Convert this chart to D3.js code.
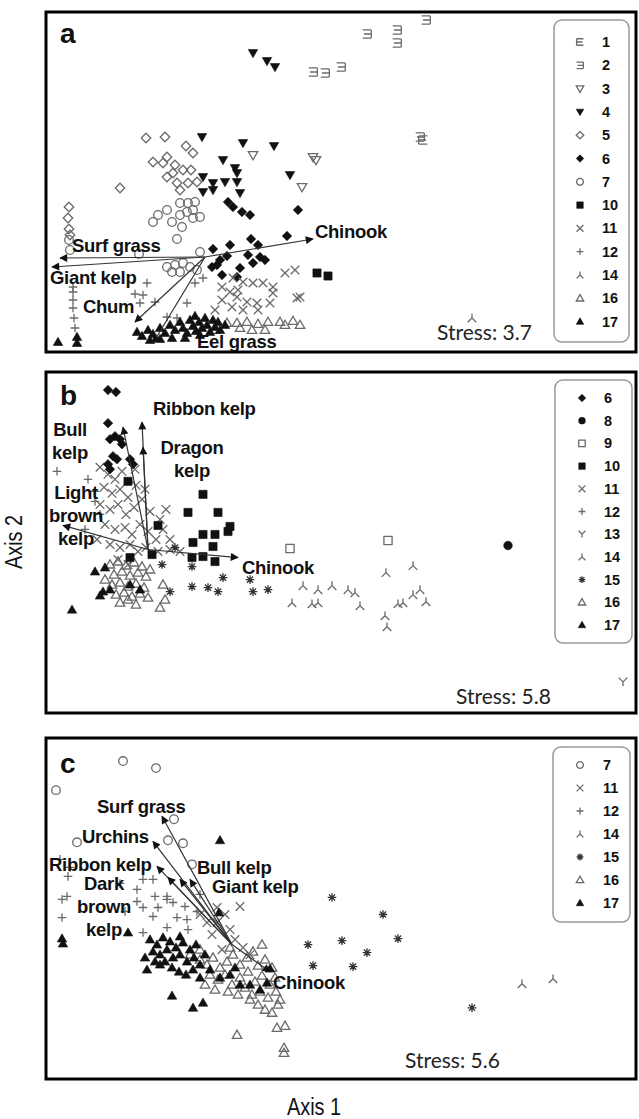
<!DOCTYPE html>
<html><head><meta charset="utf-8">
<script src="https://cdn.jsdelivr.net/npm/d3@7"></script>
<style>body{margin:0;background:#fff}svg{display:block}</style>
</head><body>
<script>
// ---------- ordination scores (Axis 1, Axis 2), one array per site group ----------
// panel a
const aG1 = [[37.7,21.2]];
const aG2 = [[38.0,33.2],[35.1,32.2],[35.1,30.9],[32.1,31.8],[26.7,28.0],[27.9,27.9],[29.5,28.5],[37.4,21.5]];
const aG3 = [[20.7,19.7],[26.7,19.5],[27.0,19.2],[25.6,16.5]];
const aG4 = [[20.7,29.9],[22.1,29.1],[22.9,28.5],[15.6,21.5],[19.7,20.9],[22.8,20.6],[17.7,19.2],[18.9,18.4],[19.1,17.9],[15.7,17.5],[16.7,16.9],[17.9,17.0],[19.1,17.0],[19.4,15.9],[15.7,16.0],[16.7,16.2],[24.4,17.7]];
const aG5 = [[10.0,21.4],[11.9,21.5],[14.0,20.6],[14.7,19.9],[10.7,19.0],[11.7,18.9],[12.1,19.5],[12.7,17.9],[13.7,18.2],[14.5,18.2],[12.1,17.5],[7.4,16.4],[13.1,16.9],[14.2,16.9],[15.1,17.0],[13.4,16.2],[2.3,14.5],[2.2,13.4],[2.3,12.3],[2.4,11.7],[12.9,18.7]];
const aG6 = [[18.2,15.0],[18.7,14.5],[19.6,14.0],[20.4,13.7],[25.2,14.2],[16.7,10.3],[18.4,10.7],[20.5,11.3],[21.2,10.7],[24.1,11.6],[18.1,9.6],[17.4,9.2],[16.6,8.5],[17.1,8.7],[19.4,8.4],[20.2,9.7],[20.7,8.9],[21.4,9.5],[21.9,9.2],[17.6,7.7],[19.1,7.5]];
const aG7 = [[10.7,13.0],[11.2,13.7],[12.1,14.2],[12.6,13.0],[13.6,12.5],[13.4,13.7],[14.1,14.0],[14.7,14.2],[15.4,13.5],[14.7,13.4],[14.2,14.9],[13.4,14.9],[14.9,15.0],[13.1,11.3],[9.3,9.8],[15.4,10.0],[2.3,11.2],[12.1,8.5],[12.9,8.7],[13.7,8.9],[14.4,8.5],[15.1,8.2],[12.6,8.0],[13.4,8.0],[2.4,10.2]];
const aG10 = [[27.1,7.9],[28.2,7.6]];
const aG11 = [[23.9,7.9],[24.9,8.2],[18.7,7.4],[19.7,7.0],[20.7,6.9],[21.7,6.9],[22.7,6.5],[17.6,6.5],[18.4,6.0],[19.1,5.5],[20.1,5.0],[21.1,4.9],[22.4,4.9],[25.1,5.4],[17.6,5.2],[18.6,4.5],[19.7,4.2],[16.9,4.2],[21.2,4.2],[22.7,5.9],[19.2,6.2],[25.4,5.5]];
const aG12 = [[10.1,6.9],[8.9,5.8],[9.7,5.7],[9.4,4.9],[14.9,6.9],[15.7,7.4],[14.1,4.9],[2.7,6.5],[2.7,6.0],[2.7,5.2],[2.7,4.4],[2.8,3.4],[2.9,2.4],[13.1,3.4],[12.1,3.5],[10.9,5.0]];
const aG14 = [[42.6,3.4]];
const aG16 = [[18.1,2.9],[19.1,2.9],[20.1,3.0],[21.2,2.8],[22.2,3.0],[23.4,3.0],[24.7,3.1],[23.9,2.7],[19.4,2.4],[20.6,2.2],[21.9,2.2],[16.9,2.2],[25.4,2.7]];
const aG17 = [[1.2,1.0],[3.1,1.5],[3.1,0.9],[9.1,2.0],[9.6,1.6],[10.2,2.2],[10.7,1.8],[11.4,2.4],[11.9,1.9],[12.4,2.7],[12.9,2.2],[13.4,3.0],[13.7,2.4],[14.1,1.9],[14.4,3.2],[14.7,2.6],[15.0,2.1],[15.3,3.0],[15.6,2.4],[15.9,3.4],[16.1,2.7],[16.4,2.0],[16.7,3.2],[16.9,2.5],[17.2,3.0],[17.4,2.2],[15.4,1.7],[13.9,1.4],[12.6,1.4],[11.4,1.3],[10.4,1.2],[17.9,2.7],[14.9,3.6]];

// panel b
const bG6 = [[6.2,32.2],[7.0,32.0],[6.2,28.9],[6.4,27.3],[6.9,27.6],[7.4,27.3],[6.7,25.6],[7.1,25.3],[8.4,25.3],[8.7,24.8],[6.2,24.8],[6.4,24.3],[7.6,26.8]];
const bG8 = [[46.2,16.7]];
const bG9 = [[34.2,17.2],[24.4,16.4]];
const bG10 = [[15.7,21.8],[14.2,20.0],[17.2,20.0],[18.4,18.6],[14.7,17.0],[15.7,17.8],[16.9,17.8],[18.2,18.1],[15.7,15.6],[16.7,16.6],[16.9,15.1],[14.6,15.5],[10.6,15.8],[8.2,23.1],[11.2,18.7],[8.4,15.5]];
const bG11 = [[5.4,24.5],[6.2,23.8],[6.9,23.3],[7.6,24.1],[5.8,22.5],[6.6,21.9],[7.4,22.3],[8.2,21.5],[9.0,22.7],[5.4,20.8],[6.4,20.3],[7.2,20.8],[8.0,19.8],[8.8,20.5],[9.6,21.3],[10.4,20.1],[11.4,19.3],[12.0,20.3],[5.9,18.8],[6.9,18.3],[7.9,18.5],[8.6,17.8],[9.4,18.8],[10.2,18.1],[11.0,17.3],[11.7,18.3],[6.4,16.8],[7.4,16.5],[8.4,16.8],[9.2,16.1],[10.0,16.5],[7.2,15.3],[8.2,14.8],[11.2,16.1],[12.4,17.3],[8.9,24.3],[9.9,22.3],[5.1,17.3],[12.4,16.3],[13.4,16.1]];
const bG12 = [[1.1,24.1],[4.9,22.1],[4.9,21.1],[4.2,23.3],[5.4,19.8],[3.9,18.3]];
const bG13 = [[57.7,3.1]];
const bG14 = [[34.0,14.0],[36.7,14.7],[25.7,12.7],[27.2,12.3],[28.6,12.7],[30.2,12.3],[30.9,12.0],[31.4,10.7],[26.6,10.9],[27.2,11.0],[33.9,9.7],[34.1,8.6],[35.2,10.9],[35.7,11.0],[36.7,11.8],[37.4,12.3],[38.0,11.1],[24.6,11.0]];
const bG15 = [[12.9,16.5],[11.6,14.8],[14.6,14.6],[17.7,13.5],[20.4,13.3],[20.7,12.1],[22.2,12.3],[14.6,12.6],[16.2,12.5],[17.2,12.1],[12.4,12.1]];
const bG16 = [[6.4,14.8],[7.2,15.1],[8.0,14.7],[8.8,15.0],[9.6,14.6],[6.8,13.8],[7.6,14.1],[8.4,13.7],[9.2,14.0],[10.0,13.6],[6.6,12.8],[7.4,13.0],[8.2,12.6],[9.0,12.9],[9.8,12.5],[7.0,11.8],[7.8,12.0],[8.6,11.6],[9.4,11.9],[10.2,11.5],[7.4,11.0],[8.2,11.3],[9.0,10.8],[11.7,12.8],[11.9,11.3],[11.4,10.5],[5.9,13.3],[10.4,14.3]];
const bG17 = [[2.6,10.3],[4.9,14.1],[5.9,14.5],[5.7,12.1],[5.4,11.7],[9.4,12.3],[8.4,12.8],[6.4,12.3]];

// panel c
const cG7 = [[7.7,31.7],[11.0,31.0],[1.0,28.8],[12.8,25.9],[12.2,23.8],[13.7,23.5],[3.1,23.6],[14.6,21.4]];
const cG11 = [[17.1,17.1],[18.4,14.9],[19.7,13.1],[17.1,15.6],[16.1,15.6],[19.4,17.2],[17.9,16.4],[18.9,13.9],[20.4,12.4],[16.6,14.4],[15.4,16.4],[17.6,12.9]];
const cG12 = [[1.6,17.9],[1.6,16.1],[7.9,16.7],[9.1,17.7],[9.7,17.1],[11.2,17.1],[12.1,17.9],[10.7,16.2],[13.1,16.1],[14.1,15.9],[15.1,16.7],[12.1,15.1],[9.7,14.6],[14.2,14.9],[7.4,19.5],[2.4,21.1],[2.2,20.2],[9.7,19.9],[9.1,18.9],[10.7,19.9],[2.1,18.2],[10.9,18.2],[12.1,18.2],[12.7,17.6],[13.9,17.2],[15.4,18.4],[1.4,21.9]];
const cG14 = [[47.6,9.5],[50.7,10.0]];
const cG15 = [[28.6,18.1],[33.7,16.4],[26.2,13.4],[29.6,13.8],[32.1,12.6],[35.2,14.0],[26.7,11.3],[30.7,11.2],[42.6,7.1]];
const cG16 = [[15.4,11.9],[16.1,11.4],[16.7,12.1],[17.4,11.1],[18.1,11.7],[18.7,12.4],[19.4,11.4],[20.1,12.1],[20.7,12.7],[21.2,11.3],[21.9,11.9],[22.6,11.1],[16.4,10.4],[17.2,9.9],[17.9,10.4],[18.6,9.4],[19.4,10.1],[20.2,10.7],[20.9,9.7],[21.6,10.3],[22.4,9.4],[22.9,10.1],[15.9,9.4],[16.9,8.9],[18.2,8.7],[19.2,8.4],[19.9,9.1],[20.6,8.4],[21.4,8.7],[22.2,8.1],[23.0,8.7],[23.4,7.9],[21.2,7.4],[21.9,6.9],[22.6,6.6],[20.4,7.9],[19.1,4.4],[23.1,5.1],[23.9,5.3],[23.8,2.6],[23.8,3.1],[15.4,12.9],[18.4,13.1],[21.6,13.4],[14.4,12.4],[23.2,7.4]];
const cG17 = [[1.6,14.0],[1.7,13.5],[17.3,16.6],[8.2,14.6],[17.4,23.8],[12.6,8.3],[14.7,7.1],[15.7,7.6],[10.1,10.9],[11.4,11.4],[22.4,11.0],[22.1,9.6],[10.4,13.9],[11.1,13.4],[11.7,14.1],[12.4,13.7],[13.0,13.1],[13.7,13.6],[14.4,12.9],[15.0,13.4],[10.7,12.7],[11.4,12.4],[12.1,12.9],[12.7,12.1],[13.4,12.4],[14.1,11.7],[14.8,12.1],[15.4,11.4],[11.9,11.7],[12.6,11.1],[13.3,10.7],[14.0,10.4],[14.7,10.9],[15.4,10.1],[10.9,11.7],[15.9,12.4],[16.4,10.9],[17.4,10.1],[18.4,10.4],[19.4,9.4],[20.4,9.4],[21.4,8.9],[13.4,14.2],[9.9,12.1],[18.9,11.1]];

// ---------- fitted environmental vectors: [name lines, Axis 1, Axis 2] ----------
const originA = [15.9, 9.5];
const vectorsA = [[["Surf grass"],1.4,9.4],[["Giant kelp"],0.6,8.5],[["Chinook"],26.7,11.3],[["Chum"],8.9,3.0],[["Eel grass"],10.7,0.9]];
const originB = [10.2, 16.3];
const vectorsB = [[["Ribbon kelp"],9.6,29.0],[["Bull","kelp"],7.7,28.5],[["Dragon","kelp"],9.7,26.5],[["Light","brown","kelp"],1.7,18.7],[["Chinook"],19.2,15.5]];
const originC = [18.6, 13.4];
const vectorsC = [[["Surf grass"],11.6,26.2],[["Urchins"],10.7,23.7],[["Ribbon kelp"],11.1,21.2],[["Dark","brown","kelp"],12.2,20.1],[["Bull kelp"],14.4,19.9],[["Giant kelp"],13.4,19.9],[["Chinook"],22.4,10.7]];

// legend entries and stress values
const legendA = ["1","2","3","4","5","6","7","10","11","12","14","16","17"];
const legendB = ["6","8","9","10","11","12","13","14","15","16","17"];
const legendC = ["7","11","12","14","15","16","17"];
const stressA = "Stress: 3.7", stressB = "Stress: 5.8", stressC = "Stress: 5.6";

// ---------- layout ----------
const W = 639, H = 1119;
const X0 = 46, X1 = 636;
const xDomain = [0, 59], yDomain = [0, 34];

// label placement relative to arrow tip: [dx, dy, anchor]
const labelPosA = [[12,-12,"start"],[-2,11,"start"],[2,-7,"start"],[-52,-15,"start"],[44,-1,"start"]];
const labelPosB = [[11,-14,"start"],[-53,2,"middle"],[49,0,"middle"],[13,-33,"middle"],[4,10,"start"]];
const labelPosC = [[-65,-10,"start"],[-71,-5,"start"],[-108,-2,"start"],[-64,6,"middle"],[7,-12,"start"],[32,7,"start"],[3,11,"start"]];

const panels = [
  {tag:"a", top:12, bottom:352, tagBase:43,
   groups:[["5",aG5],["7",aG7],["1",aG1],["2",aG2],["3",aG3],["4",aG4],["6",aG6],["10",aG10],["11",aG11],["12",aG12],["14",aG14],["16",aG16],["17",aG17]],
   origin:originA, vectors:vectorsA, labelPos:labelPosA,
   legend:legendA, legBox:[554,20,629,342], legY0:42, legStep:23.3, legSym:580, legTxt:602,
   stress:stressA, stressX:437, stressBase:340},
  {tag:"b", top:372, bottom:713, tagBase:405,
   groups:[["11",bG11],["12",bG12],["16",bG16],["6",bG6],["8",bG8],["9",bG9],["10",bG10],["13",bG13],["14",bG14],["15",bG15],["17",bG17]],
   origin:originB, vectors:vectorsB, labelPos:labelPosB,
   legend:legendB, legBox:[555,380,632,643], legY0:398, legStep:22.7, legSym:582, legTxt:604,
   stress:stressB, stressX:456, stressBase:704},
  {tag:"c", top:738, bottom:1079, tagBase:773,
   groups:[["7",cG7],["12",cG12],["11",cG11],["16",cG16],["14",cG14],["15",cG15],["17",cG17]],
   origin:originC, vectors:vectorsC, labelPos:labelPosC,
   legend:legendC, legBox:[553,747,630,922], legY0:765, legStep:23, legSym:580, legTxt:603,
   stress:stressC, stressX:405, stressBase:1068}
];

// ---------- symbols ----------
const FILLED = new Set(["4","6","8","10","17"]);
function symbolPath(t, r) {
  const c = `M${r},0A${r},${r} 0 1 1 ${-r},0A${r},${r} 0 1 1 ${r},0Z`;
  const k = r * 0.95;
  switch (t) {
    case "1": return `M${-r},${-k}H${r}M${-r},0H${r*0.7}M${-r},${k}H${r}M${-r},${-k}V${k}`;
    case "2": return `M${r},${-k}H${-r}M${r},0H${-r*0.7}M${r},${k}H${-r}M${r},${-k}V${k}`;
    case "3": case "4": return `M${-r*1.1},${-r*0.8}L${r*1.1},${-r*0.8}L0,${r*1.1}Z`;
    case "5": case "6": return `M0,${-r*1.1}L${r*1.1},0L0,${r*1.1}L${-r*1.1},0Z`;
    case "7": case "8": return c;
    case "9": case "10": return `M${-k},${-k}H${k}V${k}H${-k}Z`;
    case "11": return `M${-r},${-r}L${r},${r}M${-r},${r}L${r},${-r}`;
    case "12": return `M${-r},0H${r}M0,${-r}V${r}`;
    case "13": return `M${-r},${-r}L0,0L${r},${-r}M0,0V${r}`;
    case "14": return `M0,${-r}V0M${-r},${r}L0,0L${r},${r}`;
    case "15": { const d = r*0.72; return `M${-r},0H${r}M0,${-r}V${r}M${-d},${-d}L${d},${d}M${-d},${d}L${d},${-d}`; }
    case "16": case "17": return `M0,${-r*1.1}L${r*1.1},${r*0.8}L${-r*1.1},${r*0.8}Z`;
  }
}
function styleSymbol(sel, t) {
  if (FILLED.has(t)) sel.attr("fill", "#111").attr("stroke", "#111").attr("stroke-width", 0.6);
  else sel.attr("fill", "none").attr("stroke", t === "15" ? "#333" : "#6a6a6a").attr("stroke-width", 1.3);
}

// ---------- drawing ----------
const svg = d3.select("body").append("svg").attr("width", W).attr("height", H)
  .style("font-family", "'Liberation Sans', Arial, sans-serif");

svg.append("defs").append("marker")
  .attr("id", "head").attr("viewBox", "0 0 10 10").attr("refX", 9).attr("refY", 5)
  .attr("markerUnits", "userSpaceOnUse").attr("markerWidth", 10).attr("markerHeight", 8)
  .attr("orient", "auto")
  .append("path").attr("d", "M0,0L10,5L0,10Z").attr("fill", "#111");

panels.forEach(p => {
  const x = d3.scaleLinear().domain(xDomain).range([X0, X1]);
  const y = d3.scaleLinear().domain(yDomain).range([p.bottom, p.top]);
  const g = svg.append("g");

  // sample points
  p.groups.forEach(([t, pts]) => {
    g.append("g").selectAll("path").data(pts).join("path")
      .attr("d", symbolPath(t, 4.3))
      .attr("transform", d => `translate(${x(d[0])},${y(d[1])})`)
      .call(styleSymbol, t);
  });

  // vectors
  const [ox, oy] = p.origin;
  g.append("g").selectAll("line").data(p.vectors).join("line")
    .attr("x1", x(ox)).attr("y1", y(oy))
    .attr("x2", d => x(d[1])).attr("y2", d => y(d[2]))
    .attr("stroke", "#333").attr("stroke-width", 1.2)
    .attr("marker-end", "url(#head)");

  p.vectors.forEach((v, i) => {
    const [dx, dy, anchor] = p.labelPos[i];
    const t = g.append("text")
      .attr("x", x(v[1]) + dx).attr("y", y(v[2]) + dy)
      .attr("text-anchor", anchor).attr("font-weight", "bold")
      .attr("font-size", 18.5).attr("fill", "#111").attr("letter-spacing", -0.3);
    v[0].forEach((line, j) => {
      t.append("tspan").attr("x", x(v[1]) + dx).attr("dy", j === 0 ? "0.35em" : 23).text(line);
    });
  });

  // panel letter
  g.append("text").attr("x", 60).attr("y", p.tagBase).text(p.tag)
    .attr("font-weight", "bold").attr("font-size", 28).attr("fill", "#111");

  // stress
  g.append("text").attr("x", p.stressX).attr("y", p.stressBase).text(p.stress)
    .attr("font-family", "Lato, 'Open Sans', sans-serif").attr("font-size", 21).attr("fill", "#222");

  // legend
  const [lx0, ly0, lx1, ly1] = p.legBox;
  g.append("rect").attr("x", lx0).attr("y", ly0).attr("width", lx1 - lx0).attr("height", ly1 - ly0)
    .attr("rx", 8).attr("fill", "#fff").attr("stroke", "#999").attr("stroke-width", 1.5);
  const li = g.append("g").selectAll("g").data(p.legend).join("g")
    .attr("transform", (d, i) => `translate(0,${p.legY0 + i * p.legStep})`);
  li.append("path").attr("d", d => symbolPath(d, 3.4))
    .attr("transform", `translate(${p.legSym},0)`)
    .each(function(d) { d3.select(this).call(styleSymbol, d); });
  li.append("text").attr("x", p.legTxt).attr("dy", "0.35em").text(d => d)
    .attr("font-weight", "bold").attr("font-size", 14.5).attr("fill", "#111");

  // frame
  g.append("rect").attr("x", X0).attr("y", p.top).attr("width", X1 - X0).attr("height", p.bottom - p.top)
    .attr("fill", "none").attr("stroke", "#000").attr("stroke-width", 3);
});

// axis titles
svg.append("text").attr("transform", "translate(314,1115) scale(0.83,1)")
  .attr("text-anchor", "middle").attr("font-size", 24).attr("fill", "#111").text("Axis 1");
svg.append("text").attr("transform", "translate(22,542) rotate(-90) scale(0.83,1)")
  .attr("text-anchor", "middle").attr("font-size", 24).attr("fill", "#111").text("Axis 2");
</script>
</body></html>
